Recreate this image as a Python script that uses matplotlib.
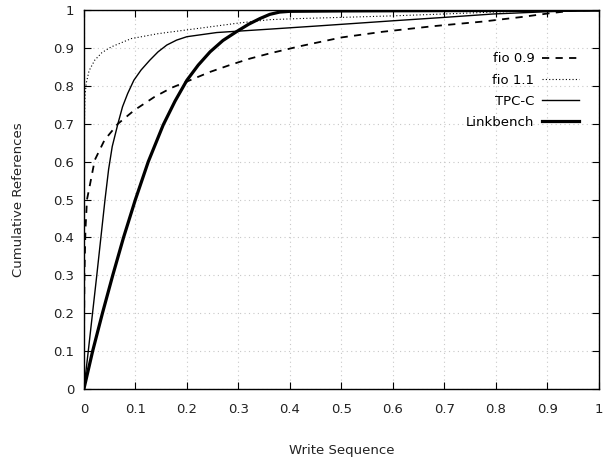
import matplotlib
matplotlib.use("Agg")
import matplotlib.pyplot as plt

# fio 0.9 (dashed)
fio09_x = [0, 0.0005, 0.001, 0.003, 0.006, 0.011, 0.021, 0.04, 0.066, 0.098, 0.137,
           0.17, 0.206, 0.245, 0.283, 0.322, 0.361, 0.42, 0.5, 0.58, 0.68, 0.775,
           0.85, 0.905, 0.95, 1.0]
fio09_y = [0, 0.2, 0.3, 0.42, 0.5, 0.534, 0.604, 0.657, 0.70, 0.736, 0.771,
           0.795, 0.815, 0.837, 0.855, 0.872, 0.886, 0.905, 0.928, 0.943, 0.958, 0.97,
           0.982, 0.992, 0.999, 1.0]

# fio 1.1 (dotted)
fio11_x = [0, 0.0005, 0.001, 0.002, 0.0045, 0.01, 0.021, 0.035, 0.053, 0.092, 0.144,
           0.2, 0.245, 0.3, 0.361, 0.42, 0.5, 0.6, 0.7, 0.795, 0.9, 1.0]
fio11_y = [0, 0.5, 0.7, 0.77, 0.807, 0.84, 0.868, 0.888, 0.903, 0.925, 0.938,
           0.948, 0.956, 0.966, 0.975, 0.978, 0.981, 0.985, 0.99, 0.995, 0.999, 1.0]

# TPC-C (thin solid)
tpcc_x = [0, 0.0085, 0.025, 0.041, 0.048, 0.055, 0.066, 0.075, 0.085, 0.097, 0.111,
          0.128, 0.144, 0.161, 0.18, 0.2, 0.258, 0.361, 0.45, 0.6, 0.7, 0.795, 0.9, 1.0]
tpcc_y = [0, 0.1, 0.3, 0.5, 0.58, 0.64, 0.70, 0.745, 0.78, 0.815, 0.842,
          0.868, 0.89, 0.908, 0.921, 0.93, 0.941, 0.95, 0.958, 0.972, 0.981, 0.99, 0.996, 1.0]

# Linkbench (thick solid)
link_x = [0, 0.017, 0.036, 0.056, 0.077, 0.1, 0.125, 0.154, 0.177, 0.2, 0.222,
          0.245, 0.27, 0.296, 0.32, 0.342, 0.361, 0.38, 0.4, 0.5, 1.0]
link_y = [0, 0.1, 0.2, 0.3, 0.4, 0.5, 0.6, 0.697, 0.76, 0.815, 0.855,
          0.89, 0.92, 0.943, 0.963, 0.978, 0.989, 0.995, 0.997, 0.998, 1.0]

ticks = [0, 0.1, 0.2, 0.3, 0.4, 0.5, 0.6, 0.7, 0.8, 0.9, 1]
tick_labels = ["0", "0.1", "0.2", "0.3", "0.4", "0.5", "0.6", "0.7", "0.8", "0.9", "1"]

fig = plt.figure(figsize=(6.08, 4.63), dpi=100)
ax = fig.add_axes([0.138, 0.16, 0.847, 0.818])

ax.plot(fio09_x, fio09_y, color="black", lw=1.3, linestyle=(0, (4, 3.5)), label="fio 0.9")
ax.plot(fio11_x, fio11_y, color="black", lw=0.8, linestyle=(0, (1, 2)), label="fio 1.1")
ax.plot(tpcc_x, tpcc_y, color="black", lw=1.0, label="TPC-C")
ax.plot(link_x, link_y, color="black", lw=2.3, label="Linkbench")

ax.set_xlim(0, 1)
ax.set_ylim(0, 1)
ax.set_xticks(ticks)
ax.set_xticklabels(tick_labels)
ax.set_yticks(ticks)
ax.set_yticklabels(tick_labels)
ax.tick_params(direction="in", length=5, top=True, right=True, labelsize=9.5,
               labelcolor="#222222")
ax.tick_params(axis="x", pad=10)
ax.tick_params(axis="y", pad=7)
ax.grid(True, color="#c8c8c8", linestyle=(0, (1, 3)), lw=0.8)
for s in ax.spines.values():
    s.set_linewidth(1.0)

ax.set_xlabel("Write Sequence", fontsize=9.5, labelpad=20, color="#222222")
ax.set_ylabel("Cumulative References", fontsize=9.5, labelpad=20, color="#222222")

ax.legend(loc="upper right", bbox_to_anchor=(0.985, 0.92), frameon=False, markerfirst=False,
          fontsize=9.5, handlelength=2.8, labelspacing=0.62, handletextpad=0.6)

fig.savefig("out.png", dpi=100)
